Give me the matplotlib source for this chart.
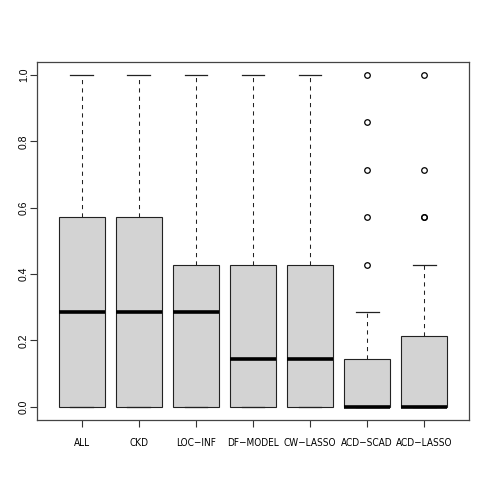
import matplotlib
matplotlib.use("Agg")
import matplotlib.pyplot as plt

# method names and box statistics (multiples of 1/7)
methods = ["ALL", "CKD", "LOC\u2212INF", "DF\u2212MODEL", "CW\u2212LASSO", "ACD\u2212SCAD", "ACD\u2212LASSO"]
whisker_low = [0, 0, 0, 0, 0, 0, 0]
q1 = [0, 0, 0, 0, 0, 0, 0]
medians = [2/7, 2/7, 2/7, 1/7, 1/7, 0, 0]
q3 = [4/7, 4/7, 3/7, 3/7, 3/7, 1/7, 1.5/7]
whisker_high = [1, 1, 1, 1, 1, 2/7, 3/7]
outliers = [[], [], [], [], [], [3/7, 4/7, 5/7, 6/7, 1], [4/7, 4/7, 5/7, 1]]
yticks = [0.0, 0.2, 0.4, 0.6, 0.8, 1.0]

stats = []
for i, name in enumerate(methods):
    stats.append({
        "label": name,
        "whislo": whisker_low[i],
        "q1": q1[i],
        "med": medians[i],
        "q3": q3[i],
        "whishi": whisker_high[i],
        "fliers": outliers[i],
    })

fig = plt.figure(figsize=(4.88, 4.98), dpi=100)
ax = fig.add_axes([0.0765, 0.1566, 0.8839, 0.7195])

ax.bxp(
    stats,
    positions=range(1, len(methods) + 1),
    widths=0.8,
    patch_artist=True,
    boxprops=dict(facecolor="#D3D3D3", edgecolor="#222222", linewidth=0.8),
    medianprops=dict(color="black", linewidth=2.6, solid_capstyle="butt"),
    whiskerprops=dict(color="#222222", linewidth=0.75, linestyle=(0, (4, 4))),
    capprops=dict(color="#222222", linewidth=0.9),
    capwidths=0.4,
    flierprops=dict(marker="o", markerfacecolor="none", markeredgecolor="black",
                    markersize=4, markeredgewidth=0.9),
)

ax.set_xlim(0.22, 7.78)
ax.set_ylim(-0.04, 1.04)
ax.set_yticks(yticks)
ax.set_yticklabels(["%.1f" % v for v in yticks])
ax.set_xticks(range(1, len(methods) + 1))
ax.set_xticklabels(methods)
ax.tick_params(axis="both", length=5, width=0.8, color="#333333")
ax.tick_params(axis="x", pad=8)
ax.tick_params(axis="y", pad=1, labelrotation=90)

for lab in ax.get_yticklabels():
    lab.set_va("center")
    lab.set_fontsize(7.5)
    lab.set_family(["Liberation Sans"])
for lab in ax.get_xticklabels():
    lab.set_fontsize(7.2)
    lab.set_family(["DejaVu Sans"])
    lab.set_fontstretch("condensed")

for s in ax.spines.values():
    s.set_color("#444444")
    s.set_linewidth(0.9)

plt.savefig("out.png", dpi=100)
plt.close()
